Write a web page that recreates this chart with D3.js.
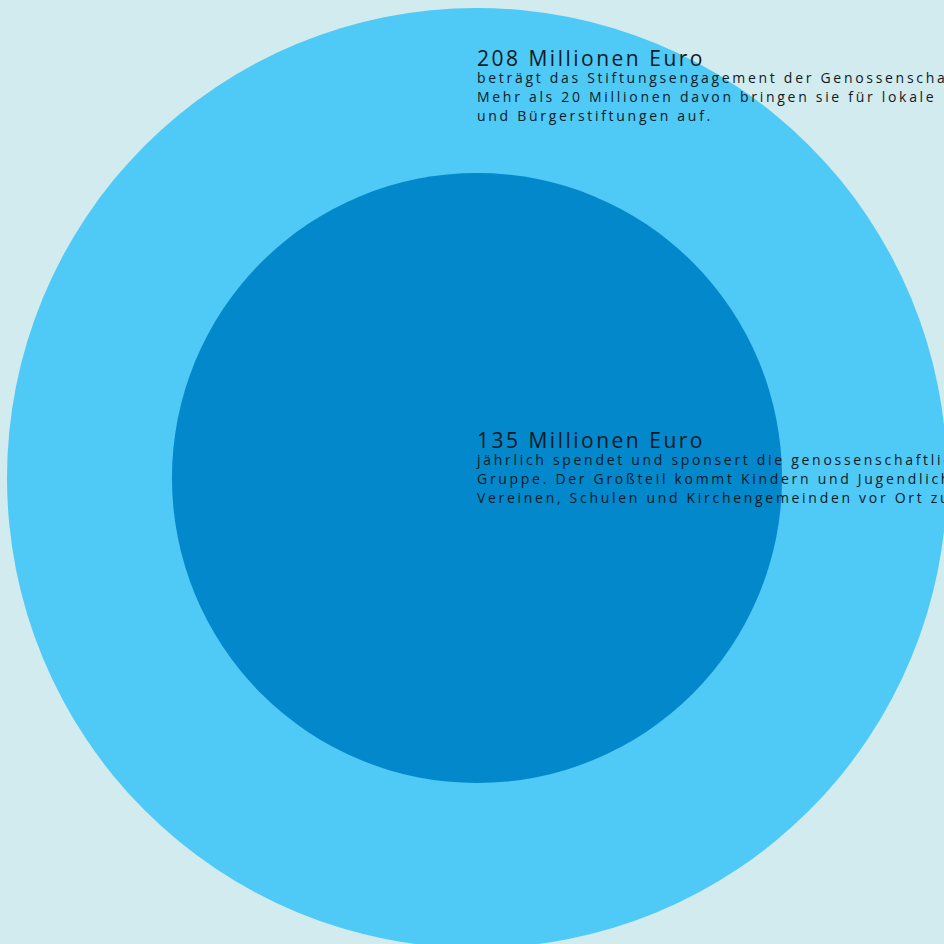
<!DOCTYPE html>
<html>
<head>
<meta charset="utf-8">
<script src="https://cdn.jsdelivr.net/npm/d3@7"></script>
<style>
  html, body { margin: 0; padding: 0; background: #d2ebee; overflow: hidden; }
  svg { display: block; }
  .title { font-family: "Open Sans", sans-serif; font-size: 21px; letter-spacing: 2.5px; fill: #0e1a26; }
  .desc { font-family: "Open Sans", sans-serif; font-size: 14px; letter-spacing: 2.7px; fill: #0e1a26; }
</style>
</head>
<body>
<script>
const values = [208, 135]
const titles = ["208 Millionen Euro", "135 Millionen Euro"]
const descriptions = [
  ["beträgt das Stiftungsengagement der Genossenschaften.",
   "Mehr als 20 Millionen davon bringen sie für lokale",
   "und Bürgerstiftungen auf."],
  ["jährlich spendet und sponsert die genossenschaftliche Finanz-",
   "Gruppe. Der Großteil kommt Kindern und Jugendlichen,",
   "Vereinen, Schulen und Kirchengemeinden vor Ort zugute."]
]
const circleColors = ["#4fc9f6", "#0288cb"]

const width = 944
const height = 944
const cx = 477
const cy = 478

const r = d3.scaleLinear().domain([0, d3.max(values)]).range([0, 470])

const svg = d3.select("body").append("svg")
    .attr("width", width)
    .attr("height", height)

svg.selectAll(".bubble")
    .data(values)
    .enter()
    .append("circle")
        .attr("class", "bubble")
        .attr("cx", cx)
        .attr("cy", cy)
        .attr("r", d => r(d))
        .attr("fill", (d, i) => circleColors[i])

// first label sits just inside the outer rim, second one at the centre
const labelY = [66, 448]

const labels = svg.selectAll(".label")
    .data(values)
    .enter()
    .append("g")
        .attr("class", "label")
        .attr("transform", (d, i) => `translate(${cx}, ${labelY[i]})`)

labels.append("text")
    .attr("class", "title")
    .text((d, i) => titles[i])

labels.each(function(d, i) {
    d3.select(this).selectAll(".desc")
        .data(descriptions[i])
        .enter()
        .append("text")
            .attr("class", "desc")
            .attr("y", (t, j) => 17 + j * 19)
            .text(t => t)
})
</script>
</body>
</html>
